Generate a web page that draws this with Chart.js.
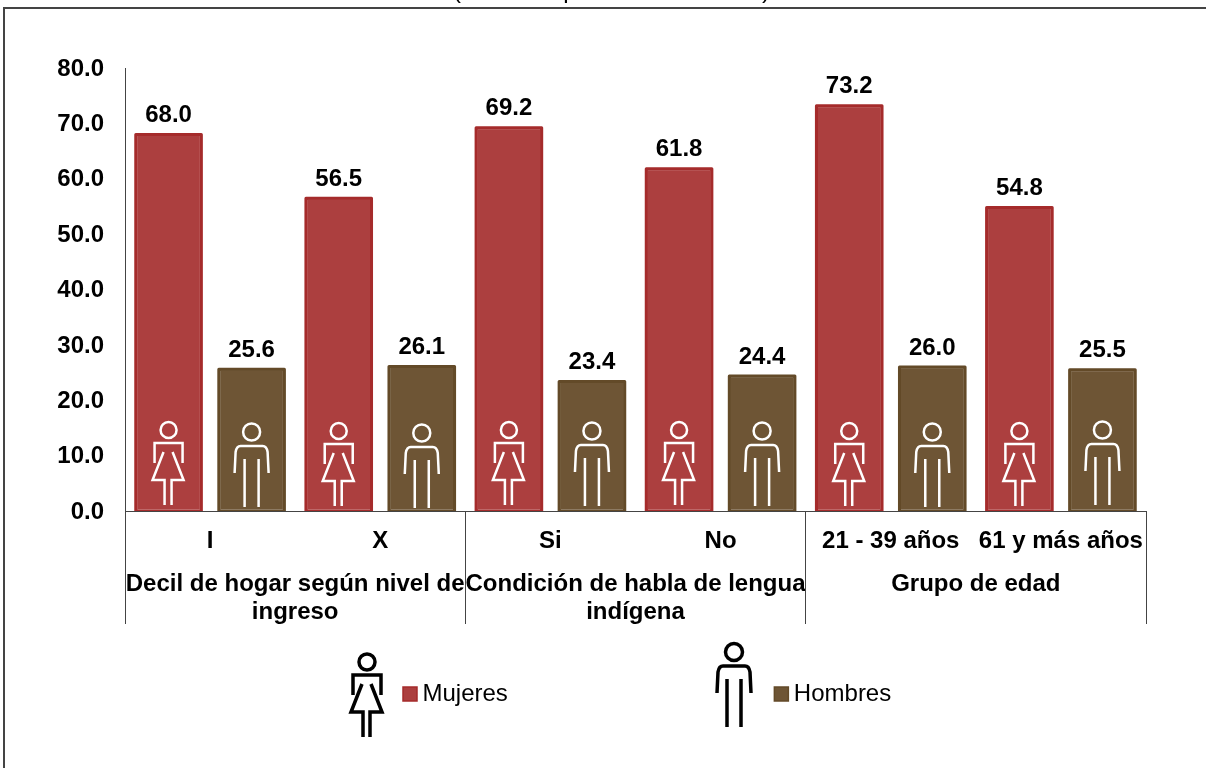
<!DOCTYPE html>
<html><head><meta charset="utf-8">
<style>html,body{margin:0;padding:0;background:#fff}canvas{display:block}</style>
<script src="https://cdn.jsdelivr.net/npm/chart.js@4"></script></head>
<body><canvas id="c" width="1206" height="768"></canvas>
<script>
const categories = ["I","X","Si","No","21 - 39 años","61 y más años"];
const groupLabels = [["Decil de hogar según nivel de","ingreso"],["Condición de habla de lengua","indígena"],["Grupo de edad"]];
const mujeres = [68.0,56.5,69.2,61.8,73.2,54.8];
const hombres = [25.6,26.1,23.4,24.4,26.0,25.5];
const FONT = '"Liberation Sans", Arial, sans-serif';
const womanHeadRise = [81,80,81,81,80,80];
const manHeadRise = [79,78,80,80,79,81];
const titleFragments = [["(",457],["p",570],[")",766]];

function woman(ctx,cx,y,color,lw){
  ctx.save();ctx.strokeStyle=color;ctx.lineWidth=lw;ctx.lineJoin='miter';ctx.lineCap='butt';
  ctx.beginPath();ctx.arc(cx,y,8,0,Math.PI*2);ctx.stroke();
  ctx.beginPath();ctx.moveTo(cx-14,y+33);ctx.lineTo(cx-14,y+13);ctx.lineTo(cx+14,y+13);ctx.lineTo(cx+14,y+33);ctx.stroke();
  ctx.beginPath();ctx.moveTo(cx-5,y+22);ctx.lineTo(cx-16,y+50);ctx.lineTo(cx-4,y+50);ctx.lineTo(cx-4,y+75);ctx.stroke();
  ctx.beginPath();ctx.moveTo(cx+4,y+22);ctx.lineTo(cx+15,y+50);ctx.lineTo(cx+3,y+50);ctx.lineTo(cx+3,y+75);ctx.stroke();
  ctx.restore();
}
function man(ctx,cx,y,color,lw){
  ctx.save();ctx.strokeStyle=color;ctx.lineWidth=lw;ctx.lineJoin='round';ctx.lineCap='butt';
  ctx.beginPath();ctx.arc(cx,y,8.5,0,Math.PI*2);ctx.stroke();
  ctx.beginPath();ctx.moveTo(cx-17,y+41);ctx.lineTo(cx-16,y+20);ctx.quadraticCurveTo(cx-15,y+14,cx-11,y+14);ctx.lineTo(cx+11,y+14);ctx.quadraticCurveTo(cx+15,y+14,cx+16,y+20);ctx.lineTo(cx+17,y+41);ctx.stroke();
  ctx.beginPath();ctx.moveTo(cx-7,y+27);ctx.lineTo(cx-7,y+75);ctx.moveTo(cx+7,y+27);ctx.lineTo(cx+7,y+75);ctx.stroke();
  ctx.restore();
}
const decor = {
  id:'decor',
  afterLayout(chart){
    const l = chart.legend;
    l.left = 136.5; l.right = 1400; l.top = 409;
  },
  beforeDraw(chart){
    const c = chart.ctx;
    c.save();
    c.fillStyle='#000';c.font='24px '+FONT;c.textAlign='center';c.textBaseline='alphabetic';
    titleFragments.forEach(f=>c.fillText(f[0],f[1],-2));
    c.strokeStyle='#444';c.lineWidth=2;
    c.beginPath();c.moveTo(4,768);c.lineTo(4,8);c.lineTo(1206,8);c.stroke();
    c.restore();
  },
  afterDatasetsDraw(chart){
    const c = chart.ctx, xs = chart.scales.x, base = chart.scales.y.getPixelForValue(0);
    c.save();
    chart.data.datasets.forEach((d,k)=>chart.getDatasetMeta(k).data.forEach(b=>{
      const l=b.x-b.width/2, r=b.x+b.width/2;
      c.strokeStyle=d.borderColor;c.lineWidth=3;c.lineJoin='round';
      c.beginPath();c.moveTo(l,base);c.lineTo(l,b.y);c.lineTo(r,b.y);c.lineTo(r,base);c.stroke();
    }));
    c.restore();
    chart.getDatasetMeta(0).data.forEach((b,i)=>woman(c,b.x,base-womanHeadRise[i],'#fff',2.5));
    chart.getDatasetMeta(1).data.forEach((b,i)=>man(c,b.x,base-manHeadRise[i],'#fff',2.5));
    c.save();
    c.fillStyle='#000';c.font='bold 24px '+FONT;c.textAlign='center';c.textBaseline='middle';
    chart.data.datasets.forEach((d,k)=>chart.getDatasetMeta(k).data.forEach((b,i)=>{
      c.fillText(d.data[i].toFixed(1),b.x,b.y-19);
    }));
    c.strokeStyle='#444';c.lineWidth=1;
    const step = xs.width/groupLabels.length;
    for(let i=0;i<=groupLabels.length;i++){
      const x=Math.floor(xs.left+i*step)+.5;
      c.beginPath();c.moveTo(x,xs.top);c.lineTo(x,624);c.stroke();
    }
    c.restore();
    woman(c,367,662,'#000',3.5);
    man(c,734,652,'#000',3.5);
  }
};
new Chart(document.getElementById('c'),{
  type:'bar',
  data:{labels:categories,datasets:[
    {label:'Mujeres',data:mujeres,backgroundColor:'#AC3F3F',borderColor:'#A52B2B',borderWidth:1.5,borderRadius:1,borderSkipped:false,categoryPercentage:.976,barPercentage:.79},
    {label:'Hombres',data:hombres,backgroundColor:'#6E5535',borderColor:'#634A28',borderWidth:1.5,borderRadius:1,borderSkipped:false,categoryPercentage:.976,barPercentage:.79}
  ]},
  plugins:[decor],
  options:{
    responsive:false,animation:false,
    layout:{padding:{left:0,top:68,right:60,bottom:0}},
    plugins:{
      title:{display:false},tooltip:{enabled:false},
      legend:{position:'bottom',align:'start',maxHeight:144,labels:{usePointStyle:true,pointStyle:'rect',boxWidth:1,boxHeight:14,padding:273,color:'#000',font:{family:FONT,size:24}}}
    },
    scales:{
      x:{type:'category',position:'bottom',grid:{display:false},border:{display:true,color:'#444',width:1},
        ticks:{color:'#000',font:{family:FONT,size:24,weight:'bold'},padding:8,maxRotation:0,autoSkip:false},
        afterFit(s){s.height=45;}},
      x2:{type:'category',position:'bottom',labels:groupLabels,offset:true,grid:{display:false},border:{display:false},
        ticks:{color:'#000',font:{family:FONT,size:24,weight:'bold',lineHeight:1.15},padding:7,maxRotation:0,autoSkip:false},
        afterFit(s){s.height=68;}},
      y:{min:0,max:80,grid:{display:false,drawTicks:false},border:{display:true,color:'#444',width:1},
        ticks:{stepSize:10,color:'#000',font:{family:FONT,size:24,weight:'bold'},padding:21,labelOffset:1,callback:v=>v.toFixed(1)},
        afterFit(s){s.width=125;}}
    }
  }
});
</script></body></html>
